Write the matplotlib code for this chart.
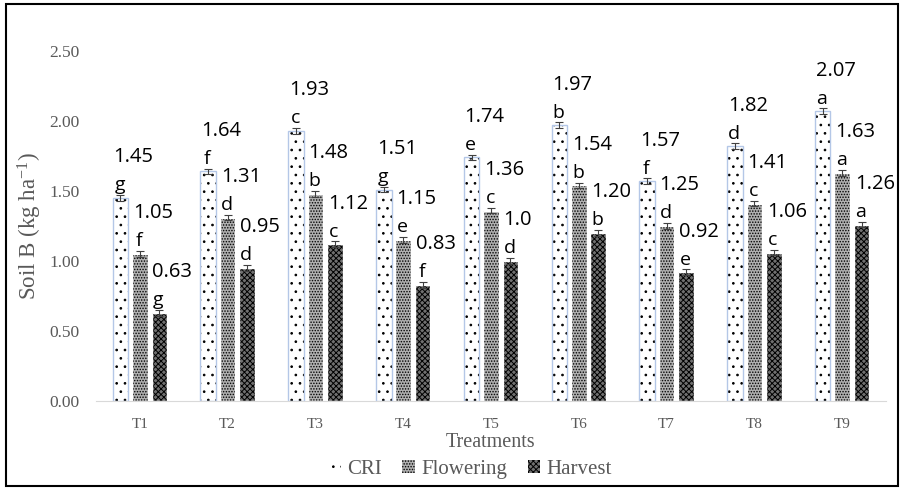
import numpy as np
import matplotlib.pyplot as plt
from matplotlib.patches import Rectangle, Patch

serif = 'Liberation Serif'
sans = 'Open Sans'
grey = '#595959'

plt.rcParams['font.family'] = serif
plt.rcParams['hatch.linewidth'] = 0.7
plt.rcParams['mathtext.fontset'] = 'custom'
plt.rcParams['mathtext.rm'] = serif
plt.rcParams['mathtext.it'] = serif + ':italic'

# -----------------------------
# data
# -----------------------------
treatments = ['T1', 'T2', 'T3', 'T4', 'T5', 'T6', 'T7', 'T8', 'T9']
series = ['CRI', 'Flowering', 'Harvest']

cri = [1.45, 1.64, 1.93, 1.51, 1.74, 1.97, 1.57, 1.82, 2.07]
flowering = [1.05, 1.31, 1.48, 1.15, 1.36, 1.54, 1.25, 1.41, 1.63]
harvest = [0.63, 0.95, 1.12, 0.83, 1.00, 1.20, 0.92, 1.06, 1.26]

cri_lbl = ['1.45', '1.64', '1.93', '1.51', '1.74', '1.97', '1.57', '1.82', '2.07']
flow_lbl = ['1.05', '1.31', '1.48', '1.15', '1.36', '1.54', '1.25', '1.41', '1.63']
harv_lbl = ['0.63', '0.95', '1.12', '0.83', '1.0', '1.20', '0.92', '1.06', '1.26']

cri_let = ['g', 'f', 'c', 'g', 'e', 'b', 'f', 'd', 'a']
flow_let = ['f', 'd', 'b', 'e', 'c', 'b', 'd', 'c', 'a']
harv_let = ['g', 'd', 'c', 'f', 'd', 'b', 'e', 'c', 'a']

err = [0.02] * 9

yticks = [0.0, 0.5, 1.0, 1.5, 2.0, 2.5]

# -----------------------------
# styling
# -----------------------------
hatches = ['..', '......', 'xxxxxx']
faces = ['white', '#b0b0b0', '#707070']
edge_cols = ['#b4c7e7', 'white', 'white']

fig = plt.figure(figsize=(9.04, 4.88), dpi=100)
ax = fig.add_axes([96 / 904, 1 - 401 / 488, 790 / 904, 350 / 488])

x = np.arange(len(treatments))
w = 0.177
step = 0.222

values = [cri, flowering, harvest]
labels = [cri_lbl, flow_lbl, harv_lbl]
letters = [cri_let, flow_let, harv_let]

for i, (vals, lbls, lets) in enumerate(zip(values, labels, letters)):
    xs = x + (i - 1) * step
    # hatch layer
    ax.bar(xs, vals, w, color=faces[i], hatch=hatches[i], edgecolor='black', linewidth=0, zorder=2)
    # outline layer
    ax.bar(xs, vals, w, fill=False, edgecolor=edge_cols[i], linewidth=1.0, zorder=3)
    ax.errorbar(xs, vals, yerr=err, fmt='none', ecolor='#404040', elinewidth=0.8, capsize=3, capthick=0.8, zorder=4)
    for xi, v, lb, lt in zip(xs, vals, lbls, lets):
        ax.text(xi - w / 2 + 0.01, v + 0.29, lb, ha='left', va='center', fontsize=14.5, family=sans, color='black')
        ax.text(xi - 0.01, v + 0.09, lt, ha='center', va='center', fontsize=14, family=sans, color='black')

ax.set_xlim(-0.5, len(treatments) - 0.5)
ax.set_ylim(0, 2.5)
ax.set_yticks(yticks)
ax.set_yticklabels([f'{t:.2f}' for t in yticks], fontsize=12.5, color=grey)
ax.set_xticks(x)
ax.set_xticklabels(treatments, fontsize=11, color=grey)
ax.tick_params(axis='y', length=0, pad=12)
ax.tick_params(axis='x', length=0, pad=12)

for s in ['top', 'right', 'left']:
    ax.spines[s].set_visible(False)
ax.spines['bottom'].set_color('#d9d9d9')
ax.spines['bottom'].set_zorder(5)

ax.set_ylabel('Soil B (kg ha$^{\\mathregular{-1}}$)', fontsize=16.5, color=grey, labelpad=4)
ax.set_xlabel('Treatments', fontsize=14.5, color=grey, labelpad=2)

handles = [Patch(facecolor=faces[i], hatch=hatches[i], edgecolor='black', linewidth=0) for i in range(3)]
leg = fig.legend(handles, series, loc='lower center', bbox_to_anchor=(0.52, -0.02), ncol=3, frameon=False,
                 fontsize=15, handlelength=0.6, handleheight=0.6, handletextpad=0.3, columnspacing=1.0,
                 labelcolor=grey)

# outer border
fig.patches.append(Rectangle((6 / 904, 2 / 488), 892 / 904, 482 / 488, transform=fig.transFigure,
                             fill=False, edgecolor='black', linewidth=1.5))

fig.savefig('out.png', dpi=100)
